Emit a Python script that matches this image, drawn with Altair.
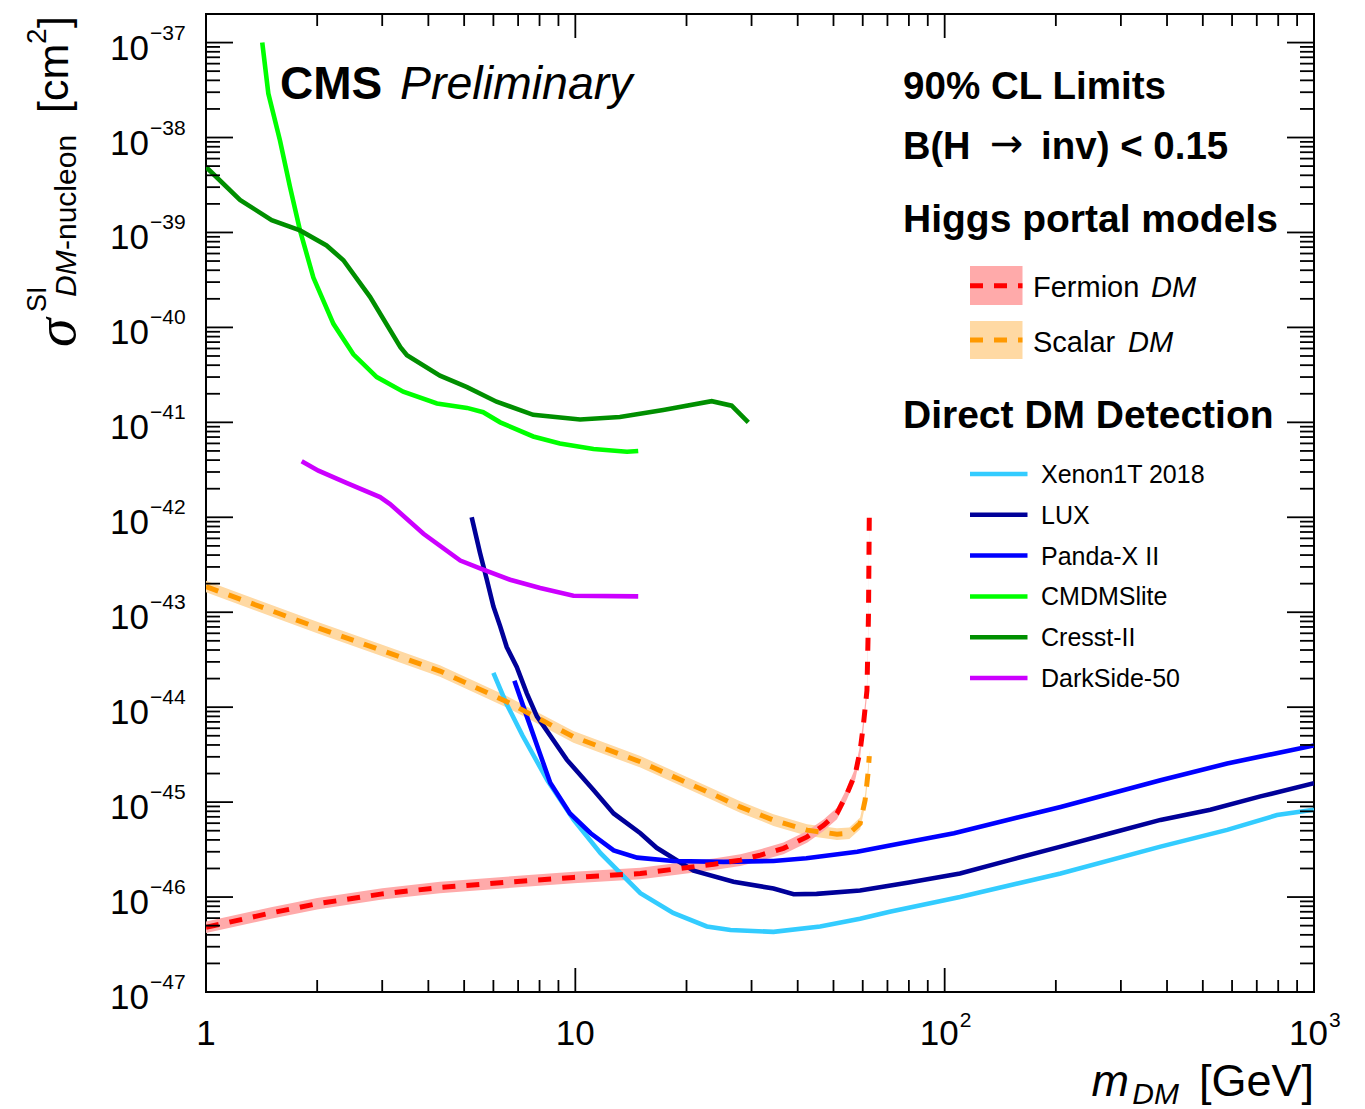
import altair as alt
import pandas as pd

# ---------------- data ----------------
xenon_m = [6.0, 6.5, 7.2, 8.4, 9.9, 11.7, 15, 18.4, 22.7, 26.3, 34.4, 46, 59, 71, 110, 206, 384, 582, 794, 1000]
xenon_s = [2.3e-44, 1.1e-44, 5.0e-45, 1.7e-45, 6.5e-46, 2.9e-46, 1.1e-46, 6.8e-47, 4.9e-47, 4.5e-47, 4.3e-47,
           4.9e-47, 5.9e-47, 7.0e-47, 1.0e-46, 1.77e-46, 3.4e-46, 5.1e-46, 7.3e-46, 8.3e-46]

lux_m = [5.24, 5.52, 5.76, 6.0, 6.26, 6.52, 6.94, 7.39, 7.87, 9.48, 11.2, 12.7, 15, 16.6, 20.9, 26.8, 34.4, 39,
         45, 59, 80, 110, 150, 206, 281, 384, 524, 716, 1000]
lux_s = [1.0e-42, 4.2e-43, 2.2e-43, 1.15e-43, 7.1e-44, 4.3e-44, 2.65e-44, 1.4e-44, 8.0e-45, 2.8e-45, 1.34e-45,
         7.6e-46, 4.7e-46, 3.3e-46, 1.9e-46, 1.45e-46, 1.23e-46, 1.07e-46, 1.08e-46, 1.17e-46, 1.42e-46,
         1.77e-46, 2.45e-46, 3.4e-46, 4.7e-46, 6.5e-46, 8.3e-46, 1.15e-45, 1.58e-45]

panda_m = [6.84, 7.39, 8.03, 8.55, 9.67, 11.0, 12.7, 14.7, 18.4, 25.2, 34.4, 42.2, 58, 71, 106, 206, 384, 582, 1000]
panda_s = [1.9e-44, 8.0e-45, 3.2e-45, 1.6e-45, 7.6e-46, 4.7e-46, 3.1e-46, 2.6e-46, 2.4e-46, 2.35e-46, 2.4e-46,
           2.56e-46, 3.0e-46, 3.5e-46, 4.7e-46, 8.9e-46, 1.7e-45, 2.55e-45, 3.95e-45]

cdms_m = [1.42, 1.475, 1.586, 1.689, 1.797, 1.953, 2.213, 2.506, 2.90, 3.42, 4.22, 5.09, 5.63, 6.26, 7.69, 9.08,
          11.2, 13.8, 14.8]
cdms_s = [1.0e-37, 2.9e-38, 9.3e-39, 3.0e-39, 1.05e-39, 3.35e-40, 1.09e-40, 5.2e-41, 3.0e-41, 2.1e-41, 1.58e-41,
          1.42e-41, 1.28e-41, 1.0e-41, 7.1e-42, 6.0e-42, 5.25e-42, 4.9e-42, 5.0e-42]

cresst_m = [1.0, 1.236, 1.506, 1.797, 2.12, 2.355, 2.78, 3.36, 3.5, 4.3, 5.09, 6.12, 7.69, 10.3, 13.2, 17.3, 23.4,
            26.5, 29.4]
cresst_s = [4.9e-39, 2.2e-39, 1.35e-39, 1.05e-39, 7.3e-40, 5.1e-40, 2.1e-40, 6.2e-41, 5.1e-41, 3.1e-41, 2.35e-41,
            1.65e-41, 1.2e-41, 1.07e-41, 1.14e-41, 1.35e-41, 1.67e-41, 1.5e-41, 1.0e-41]

darkside_m = [1.816, 2.015, 2.40, 2.96, 3.15, 3.88, 4.88, 5.52, 6.66, 8.03, 9.88, 14.8]
darkside_s = [3.9e-42, 3.1e-42, 2.3e-42, 1.63e-42, 1.38e-42, 6.7e-43, 3.5e-43, 2.9e-43, 2.2e-43, 1.8e-43,
              1.49e-43, 1.47e-43]

fermion_m = [1, 1.5, 2, 3, 4.3, 6.5, 9.9, 15, 18.6, 23.7, 28, 31.7, 36.6, 42.4, 47, 51.1, 54.4, 57.3, 59.05,
             60.3, 61.6, 62.0, 62.2, 62.5]
fermion_s = [4.8e-47, 6.8e-47, 8.5e-47, 1.08e-46, 1.26e-46, 1.43e-46, 1.61e-46, 1.77e-46, 1.97e-46, 2.22e-46,
             2.45e-46, 2.77e-46, 3.26e-46, 4.3e-46, 5.7e-46, 7.6e-46, 1.23e-45, 2.0e-45, 3.5e-45, 6.7e-45,
             1.5e-44, 5.1e-44, 9.8e-44, 1.0e-42]
fermion_lo = [4.17e-47, 5.91e-47, 7.39e-47, 9.4e-47, 1.10e-46, 1.24e-46, 1.40e-46, 1.54e-46, 1.71e-46, 1.93e-46,
              2.13e-46, 2.41e-46, 2.83e-46, 3.74e-46, 4.96e-46, 6.61e-46, 1.07e-45, 1.74e-45, 3.04e-45,
              5.83e-45, 1.30e-44, 4.43e-44, 8.52e-44, 8.7e-43]
fermion_hi = [5.52e-47, 7.82e-47, 9.78e-47, 1.24e-46, 1.45e-46, 1.64e-46, 1.85e-46, 2.04e-46, 2.27e-46,
              2.55e-46, 2.82e-46, 3.19e-46, 3.75e-46, 4.95e-46, 6.56e-46, 8.74e-46, 1.41e-45, 2.30e-45,
              4.03e-45, 7.71e-45, 1.73e-44, 5.87e-44, 1.13e-43, 1.15e-42]

scalar_m = [1, 2, 3, 4.3, 6.5, 9.88, 15, 22.7, 27.95, 34.4, 42.4, 51.1, 55.2, 59.05, 60.9, 62.0, 62.5]
scalar_s = [1.86e-43, 6.9e-44, 3.95e-44, 2.4e-44, 1.15e-44, 4.87e-45, 2.66e-45, 1.29e-45, 8.9e-46, 6.46e-46,
            5.07e-46, 4.6e-46, 4.7e-46, 5.97e-46, 1.05e-45, 2.0e-45, 3.05e-45]
scalar_lo = [1.62e-43, 6.0e-44, 3.43e-44, 2.09e-44, 1.0e-44, 4.23e-45, 2.31e-45, 1.12e-45, 7.74e-46, 5.62e-46,
             4.41e-46, 4.0e-46, 4.09e-46, 5.19e-46, 9.13e-46, 1.74e-45, 2.65e-45]
scalar_hi = [2.14e-43, 7.94e-44, 4.54e-44, 2.76e-44, 1.32e-44, 5.6e-45, 3.06e-45, 1.48e-45, 1.02e-45, 7.43e-46,
             5.83e-46, 5.29e-46, 5.41e-46, 6.87e-46, 1.21e-45, 2.3e-45, 3.51e-45]

dd_names = ["Xenon1T 2018", "LUX", "Panda-X II", "CMDMSlite", "Cresst-II", "DarkSide-50"]
dd_colors = ["#33ccff", "#000099", "#0000ff", "#00ff00", "#008f00", "#cc00ff"]
dd_series = [(xenon_m, xenon_s), (lux_m, lux_s), (panda_m, panda_s), (cdms_m, cdms_s),
             (cresst_m, cresst_s), (darkside_m, darkside_s)]

y_exps = list(range(-47, -36))          # decade labels 10^-47 .. 10^-37
x_major = [1, 10, 100, 1000]
x_labels_plain = {1: "1", 10: "10"}
x_labels_pow = {100: "2", 1000: "3"}

# ---------------- geometry / style ----------------
W, H = 1108, 978
FONT = "Liberation Sans"
xs = alt.Scale(type="log", domain=[1, 1000], nice=False)
ys = alt.Scale(type="log", domain=[1e-47, 2e-37], nice=False)
ONE = pd.DataFrame({"a": [0]})


def X(f="m"):
    return alt.X(f"{f}:Q", scale=xs, axis=None)


def Y(f="s"):
    return alt.Y(f"{f}:Q", scale=ys, axis=None)


def txt(s, x, y, size, weight="normal", style="normal", align="left", angle=0, font=FONT):
    return alt.Chart(ONE).mark_text(text=s, fontSize=size, fontWeight=weight, fontStyle=style, align=align,
                                    baseline="alphabetic", angle=angle, font=font, color="black").encode(
        x=alt.value(x), y=alt.value(y))


layers = []

# Higgs portal bands
fdf = pd.DataFrame({"m": fermion_m, "s": fermion_s, "lo": fermion_lo, "hi": fermion_hi})
sdf = pd.DataFrame({"m": scalar_m, "s": scalar_s, "lo": scalar_lo, "hi": scalar_hi})
layers.append(alt.Chart(sdf).mark_area(color="#ffd9a3", clip=True).encode(x=X(), y=Y("lo"), y2=alt.Y2("hi:Q")))
layers.append(alt.Chart(fdf).mark_area(color="#ffaaaa", clip=True).encode(x=X(), y=Y("lo"), y2=alt.Y2("hi:Q")))

# Direct detection curves
rows = []
for name, (mm, ss) in zip(dd_names, dd_series):
    for a, b in zip(mm, ss):
        rows.append({"m": a, "s": b, "exp": name})
ddf = pd.DataFrame(rows)
layers.append(alt.Chart(ddf).mark_line(strokeWidth=4.6, clip=True).encode(
    x=X(), y=Y(), color=alt.Color("exp:N", scale=alt.Scale(domain=dd_names, range=dd_colors), legend=None)))

# Higgs portal central dashed lines
layers.append(alt.Chart(sdf).mark_line(color="#ff9900", strokeWidth=5, strokeDash=[13, 11], clip=True).encode(
    x=X(), y=Y()))
layers.append(alt.Chart(fdf).mark_line(color="#ff0000", strokeWidth=5, strokeDash=[13, 11], clip=True).encode(
    x=X(), y=Y()))

# ---------------- ticks (inside the frame, ROOT style) ----------------
ymaj = pd.DataFrame({"v": [10.0 ** e for e in y_exps]})
ymin = pd.DataFrame({"v": [k * 10.0 ** e for e in y_exps[:-1] for k in range(2, 10)]})
xmaj = pd.DataFrame({"v": x_major})
xmin = pd.DataFrame({"v": [k * 10 ** e for e in range(0, 3) for k in range(2, 10)]})
tk = dict(color="black", strokeWidth=1.8)
for df, L in ((ymaj, 27), (ymin, 14)):
    layers.append(alt.Chart(df).mark_rule(**tk).encode(y=Y("v"), x=alt.value(0), x2=alt.value(L)))
    layers.append(alt.Chart(df).mark_rule(**tk).encode(y=Y("v"), x=alt.value(W - L), x2=alt.value(W)))
for df, L in ((xmaj, 24), (xmin, 12)):
    layers.append(alt.Chart(df).mark_rule(**tk).encode(x=X("v"), y=alt.value(H), y2=alt.value(H - L)))
    layers.append(alt.Chart(df).mark_rule(**tk).encode(x=X("v"), y=alt.value(0), y2=alt.value(L)))

# ---------------- tick labels ----------------
ylab = pd.DataFrame({"v": [10.0 ** e for e in y_exps], "e": ["\u2212" + str(-e) for e in y_exps]})
layers.append(alt.Chart(ylab).mark_text(text="10", fontSize=35, font=FONT, align="right", baseline="alphabetic",
                                        dy=17, color="black").encode(y=Y("v"), x=alt.value(-57)))
layers.append(alt.Chart(ylab).mark_text(fontSize=21, font=FONT, align="left", baseline="alphabetic",
                                        dy=-3, color="black").encode(y=Y("v"), x=alt.value(-56), text="e:N"))
xl1 = pd.DataFrame({"v": list(x_labels_plain.keys()), "t": list(x_labels_plain.values())})
xl2 = pd.DataFrame({"v": list(x_labels_pow.keys()), "t": list(x_labels_pow.values())})
layers.append(alt.Chart(xl1).mark_text(fontSize=35, font=FONT, align="center", baseline="alphabetic",
                                       color="black").encode(x=X("v"), y=alt.value(1031), text="t:N"))
layers.append(alt.Chart(xl2).mark_text(text="10", fontSize=35, font=FONT, align="right", baseline="alphabetic",
                                       dx=14, color="black").encode(x=X("v"), y=alt.value(1031)))
layers.append(alt.Chart(xl2).mark_text(fontSize=21, font=FONT, align="left", baseline="alphabetic",
                                       dx=15, color="black").encode(x=X("v"), y=alt.value(1013), text="t:N"))

# ---------------- axis titles ----------------
layers.append(txt("[GeV]", W, 1082, 45, align="right"))
layers.append(txt("DM", 973, 1090, 30, style="italic", align="right"))
layers.append(txt("m", 923, 1082, 45, style="italic", align="right"))

layers.append(txt("\u03c3", -131, 333, 58, style="italic", angle=270, font="Liberation Serif"))
layers.append(txt("SI", -160, 298, 27, angle=270))
layers.append(txt("DM", -130, 283, 30, style="italic", angle=270))
layers.append(txt("-nucleon", -130, 236, 30, angle=270))
layers.append(txt("[cm", -138, 99, 43, angle=270))
layers.append(txt("2", -160, 30, 28, angle=270))
layers.append(txt("]", -138, 14, 43, angle=270))

# ---------------- annotations ----------------
layers.append(txt("CMS", 74, 85, 46, weight="bold"))
layers.append(txt("Preliminary", 194, 85, 46.5, style="italic"))
layers.append(txt("90% CL Limits", 697, 85, 38.6, weight="bold"))
layers.append(txt("B(H", 697, 145, 38, weight="bold"))
layers.append(txt("\u2192", 784, 143, 40, font="DejaVu Sans"))
layers.append(txt("inv) < 0.15", 835, 145, 38.5, weight="bold"))
layers.append(txt("Higgs portal models", 697, 218, 39, weight="bold"))
layers.append(txt("Direct DM Detection", 697, 414, 39, weight="bold"))

# Higgs portal legend
for (y0, y1, yc, yt, band, line, word, dmx) in (
        (252, 291, 271.7, 283, "#ffaaaa", "#ff0000", "Fermion", 945),
        (307, 345, 326, 338, "#ffd9a3", "#ff9900", "Scalar", 922)):
    layers.append(alt.Chart(ONE).mark_rect(color=band).encode(
        x=alt.value(764), x2=alt.value(816.5), y=alt.value(y0), y2=alt.value(y1)))
    layers.append(alt.Chart(ONE).mark_rule(color=line, strokeWidth=5, strokeDash=[13, 11]).encode(
        x=alt.value(764), x2=alt.value(816.5), y=alt.value(yc)))
    layers.append(txt(word, 827, yt, 29))
    layers.append(txt("DM", dmx, yt, 29, style="italic"))

# Direct detection legend
for i, (name, col) in enumerate(zip(dd_names, dd_colors)):
    yy = 460 + 40.8 * i
    layers.append(alt.Chart(ONE).mark_rule(color=col, strokeWidth=4.5).encode(
        x=alt.value(764), x2=alt.value(821.5), y=alt.value(yy)))
    layers.append(txt(name, 835, yy + 9, 25))

chart = alt.layer(*layers).properties(
    width=W, height=H,
    padding={"left": 206, "top": 14, "right": 51, "bottom": 117},
    autosize=alt.AutoSizeParams(type="none"),
).configure_view(stroke="black", strokeWidth=2)

chart.save("out.html", embed_options={"renderer": "svg", "actions": False})
